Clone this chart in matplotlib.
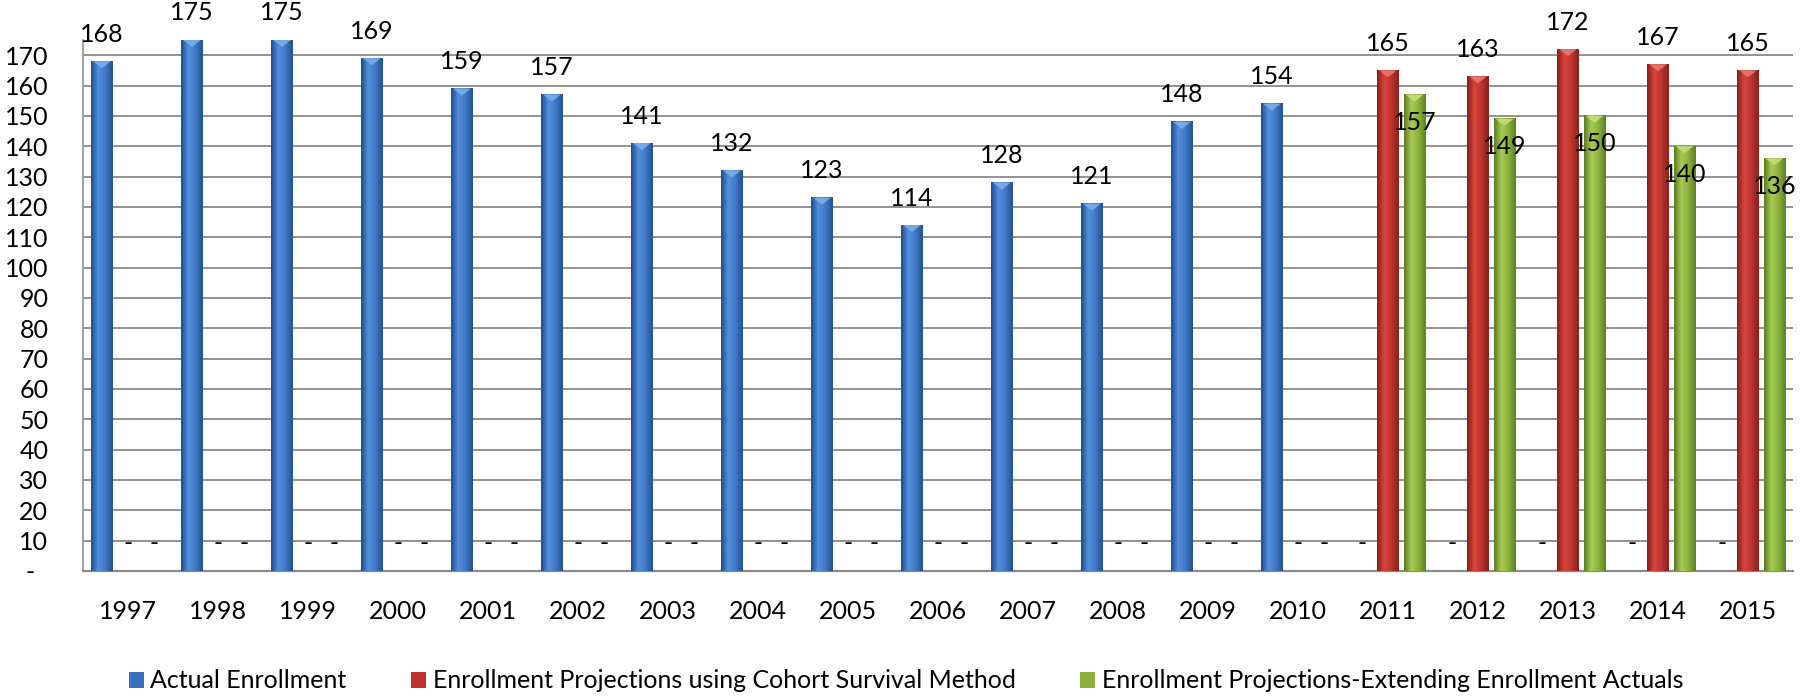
import numpy as np
import matplotlib
matplotlib.use("Agg")
import matplotlib.pyplot as plt
from matplotlib.colors import LinearSegmentedColormap
from matplotlib.patches import Polygon

plt.rcParams['font.family'] = ['Lato', 'DejaVu Sans']

years = ['1997', '1998', '1999', '2000', '2001', '2002', '2003', '2004', '2005', '2006',
         '2007', '2008', '2009', '2010', '2011', '2012', '2013', '2014', '2015']
actual = [168, 175, 175, 169, 159, 157, 141, 132, 123, 114, 128, 121, 148, 154, 0, 0, 0, 0, 0]
cohort = [0, 0, 0, 0, 0, 0, 0, 0, 0, 0, 0, 0, 0, 0, 165, 163, 172, 167, 165]
extend = [0, 0, 0, 0, 0, 0, 0, 0, 0, 0, 0, 0, 0, 0, 157, 149, 150, 140, 136]
series_names = ['Actual Enrollment',
                'Enrollment Projections using Cohort Survival Method',
                'Enrollment Projections-Extending Enrollment Actuals']
yticks = list(range(0, 171, 10))
ytick_labels = ['-  '] + [str(v) for v in yticks[1:]]

FS = 18
W, H, DPI = 1812, 697, 100
fig = plt.figure(figsize=(W / DPI, H / DPI), dpi=DPI)
ax = fig.add_axes([83 / W, 1 - 571 / H, (1793 - 83) / W, (571 - 40) / H])

x = np.arange(len(years))
bw = 0.235
offs = [-0.29, 0.0, 0.295]
base_cols = ['#3a72c0', '#c0322d', '#8ab23c']
grads = [['#1f4c8c', '#5590dc', '#3f78c6', '#23528f'],
         ['#861d1a', '#d8463f', '#bb332e', '#8a201c'],
         ['#5a7a20', '#a8cc55', '#8ab23c', '#5f7f24']]
bevel = ['#7fb0ee', '#ea7a72', '#c8e07e']
label_mode = ['above', 'above', 'below']

ax.set_xlim(-0.5, len(years) - 0.5)
ax.set_ylim(0, 175)

for si, vals in enumerate([actual, cohort, extend]):
    bars = ax.bar(x + offs[si], vals, width=bw, color=base_cols[si],
                  label=series_names[si], zorder=3, linewidth=0)
    cmap = LinearSegmentedColormap.from_list('g%d' % si, grads[si])
    grad = np.linspace(0, 1, 64).reshape(1, -1)
    for b, v in zip(bars, vals):
        x0 = b.get_x()
        w = b.get_width()
        if v > 0:
            ax.imshow(grad, extent=(x0, x0 + w, 0, v), aspect='auto', cmap=cmap,
                      zorder=4, interpolation='bicubic')
            tri = Polygon([[x0 + w * 0.08, v], [x0 + w * 0.92, v], [x0 + w / 2, v - 2.3]],
                          closed=True, facecolor=bevel[si], edgecolor='none',
                          alpha=0.85, zorder=5)
            ax.add_patch(tri)
        txt = str(v) if v > 0 else '-'
        if label_mode[si] == 'below' and v > 0:
            dy = -28
        else:
            dy = 27
        ax.annotate(txt, (x0 + w / 2, v), xytext=(0, dy), textcoords='offset pixels',
                    ha='center', va='center', fontsize=FS, color='black', zorder=6)

ax.set_xlim(-0.5, len(years) - 0.5)
ax.set_ylim(0, 175)
ax.set_yticks(yticks)
ax.set_yticklabels(ytick_labels, fontsize=FS)
ax.set_xticks(x)
ax.set_xticklabels(years, fontsize=FS)
ax.tick_params(axis='y', length=0, pad=25)
ax.tick_params(axis='x', length=0, pad=21)
ax.yaxis.grid(True, color='#8a8a8a', linewidth=1.3, zorder=0)
ax.set_axisbelow(True)
for s in ['top', 'right']:
    ax.spines[s].set_visible(False)
ax.spines['left'].set_color('#9a9a9a')
ax.spines['left'].set_linewidth(1.3)
ax.spines['bottom'].set_color('#8a8a8a')
ax.spines['bottom'].set_linewidth(1.6)

handles, labels = ax.get_legend_handles_labels()
fig.legend(handles, labels, loc='center', bbox_to_anchor=(0.5, 1 - 681 / H), ncol=3,
           frameon=False, fontsize=FS, handlelength=0.6, handleheight=0.6,
           handletextpad=0.25, columnspacing=2.6)

fig.savefig('out.png', dpi=DPI)
